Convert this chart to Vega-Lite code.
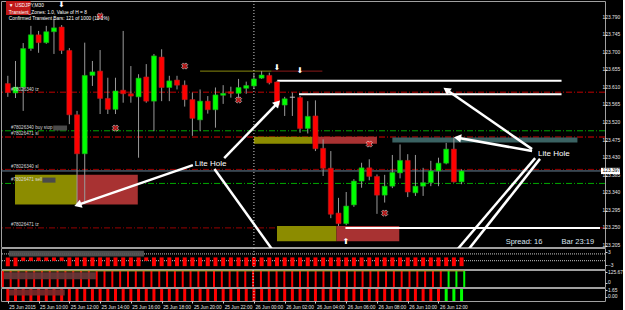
{
"$schema":"https://vega.github.io/schema/vega-lite/v6.json",
"padding":0,"background":"#000000","bounds":"flush","spacing":1,
"config":{"view":{"fill":"#000000","stroke":"#a0a0a0","strokeWidth":1},"font":"Liberation Sans",
"axis":{"labelColor":"#e6e6e6","tickColor":"#d0d0d0","domain":false,"grid":false,"labelFontSize":4.9,"tickSize":2,"labelPadding":0.5,"labelOverlap":false,"labelBound":false,"title":null}},
"datasets":{
"candles":[
{"t":"2015-06-25T08:00:00Z","o":123.621,"h":123.641,"l":123.587,"c":123.598,"v1":-3.4,"v2":140,"v3":1.95,"s":"dn"},
{"t":"2015-06-25T08:30:00Z","o":123.597,"h":123.679,"l":123.584,"c":123.612,"v1":-3.4,"v2":140,"v3":1.95,"s":"dn"},
{"t":"2015-06-25T09:00:00Z","o":123.612,"h":123.725,"l":123.551,"c":123.711,"v1":-1,"v2":140,"v3":1.95,"s":"dn"},
{"t":"2015-06-25T09:30:00Z","o":123.711,"h":123.769,"l":123.705,"c":123.746,"v1":-1,"v2":140,"v3":1.95,"s":"dn"},
{"t":"2015-06-25T10:00:00Z","o":123.746,"h":123.756,"l":123.700,"c":123.726,"v1":-1,"v2":140,"v3":1.95,"s":"dn"},
{"t":"2015-06-25T10:30:00Z","o":123.726,"h":123.769,"l":123.723,"c":123.754,"v1":-1,"v2":140,"v3":1.95,"s":"dn"},
{"t":"2015-06-25T11:00:00Z","o":123.754,"h":123.787,"l":123.697,"c":123.764,"v1":-1,"v2":140,"v3":1.95,"s":"dn"},
{"t":"2015-06-25T11:30:00Z","o":123.766,"h":123.771,"l":123.697,"c":123.706,"v1":-1,"v2":140,"v3":1.95,"s":"dn"},
{"t":"2015-06-25T12:00:00Z","o":123.706,"h":123.712,"l":123.517,"c":123.541,"v1":-3.4,"v2":140,"v3":1.95,"s":"dn"},
{"t":"2015-06-25T12:30:00Z","o":123.541,"h":123.551,"l":123.307,"c":123.441,"v1":-3.4,"v2":140,"v3":1.95,"s":"dn"},
{"t":"2015-06-25T13:00:00Z","o":123.441,"h":123.726,"l":123.312,"c":123.642,"v1":-3.4,"v2":140,"v3":1.95,"s":"dn"},
{"t":"2015-06-25T13:30:00Z","o":123.642,"h":123.679,"l":123.615,"c":123.651,"v1":-3.4,"v2":140,"v3":1.95,"s":"dn"},
{"t":"2015-06-25T14:00:00Z","o":123.653,"h":123.707,"l":123.543,"c":123.583,"v1":-3.4,"v2":140,"v3":1.95,"s":"dn"},
{"t":"2015-06-25T14:30:00Z","o":123.583,"h":123.636,"l":123.543,"c":123.555,"v1":-3.4,"v2":140,"v3":1.95,"s":"dn"},
{"t":"2015-06-25T15:00:00Z","o":123.555,"h":123.636,"l":123.543,"c":123.602,"v1":-3.4,"v2":140,"v3":1.95,"s":"dn"},
{"t":"2015-06-25T15:30:00Z","o":123.604,"h":123.756,"l":123.572,"c":123.595,"v1":-3.4,"v2":140,"v3":1.95,"s":"dn"},
{"t":"2015-06-25T16:00:00Z","o":123.595,"h":123.666,"l":123.572,"c":123.589,"v1":-3.4,"v2":140,"v3":1.95,"s":"dn"},
{"t":"2015-06-25T16:30:00Z","o":123.587,"h":123.645,"l":123.431,"c":123.635,"v1":-3.4,"v2":140,"v3":1.95,"s":"dn"},
{"t":"2015-06-25T17:00:00Z","o":123.638,"h":123.671,"l":123.572,"c":123.576,"v1":-1,"v2":140,"v3":1.95,"s":"dn"},
{"t":"2015-06-25T17:30:00Z","o":123.576,"h":123.697,"l":123.499,"c":123.692,"v1":-3.4,"v2":140,"v3":1.95,"s":"dn"},
{"t":"2015-06-25T18:00:00Z","o":123.689,"h":123.709,"l":123.576,"c":123.611,"v1":-3.4,"v2":140,"v3":1.95,"s":"dn"},
{"t":"2015-06-25T18:30:00Z","o":123.611,"h":123.641,"l":123.576,"c":123.628,"v1":-3.4,"v2":140,"v3":1.95,"s":"dn"},
{"t":"2015-06-25T19:00:00Z","o":123.630,"h":123.641,"l":123.606,"c":123.617,"v1":-3.4,"v2":140,"v3":1.95,"s":"dn"},
{"t":"2015-06-25T19:30:00Z","o":123.617,"h":123.629,"l":123.562,"c":123.580,"v1":-3.4,"v2":140,"v3":1.95,"s":"dn"},
{"t":"2015-06-25T20:00:00Z","o":123.580,"h":123.598,"l":123.487,"c":123.532,"v1":-3.4,"v2":140,"v3":1.95,"s":"dn"},
{"t":"2015-06-25T20:30:00Z","o":123.528,"h":123.606,"l":123.499,"c":123.576,"v1":-3.4,"v2":140,"v3":1.95,"s":"dn"},
{"t":"2015-06-25T21:00:00Z","o":123.576,"h":123.589,"l":123.544,"c":123.554,"v1":-3.4,"v2":140,"v3":1.95,"s":"dn"},
{"t":"2015-06-25T21:30:00Z","o":123.554,"h":123.611,"l":123.508,"c":123.592,"v1":-3.4,"v2":140,"v3":1.95,"s":"dn"},
{"t":"2015-06-25T22:00:00Z","o":123.591,"h":123.617,"l":123.569,"c":123.596,"v1":-3.4,"v2":140,"v3":1.95,"s":"dn"},
{"t":"2015-06-25T22:30:00Z","o":123.600,"h":123.613,"l":123.585,"c":123.596,"v1":-3.4,"v2":140,"v3":1.95,"s":"dn"},
{"t":"2015-06-25T23:00:00Z","o":123.596,"h":123.633,"l":123.585,"c":123.611,"v1":-3.4,"v2":140,"v3":1.95,"s":"dn"},
{"t":"2015-06-25T23:30:00Z","o":123.609,"h":123.626,"l":123.595,"c":123.616,"v1":-3.4,"v2":140,"v3":1.95,"s":"dn"},
{"t":"2015-06-26T00:00:00Z","o":123.615,"h":123.646,"l":123.607,"c":123.633,"v1":-3.4,"v2":140,"v3":1.95,"s":"dn"},
{"t":"2015-06-26T00:30:00Z","o":123.635,"h":123.653,"l":123.633,"c":123.643,"v1":-3.4,"v2":140,"v3":1.95,"s":"dn"},
{"t":"2015-06-26T01:00:00Z","o":123.642,"h":123.649,"l":123.619,"c":123.623,"v1":-3.4,"v2":140,"v3":1.95,"s":"dn"},
{"t":"2015-06-26T01:30:00Z","o":123.625,"h":123.628,"l":123.559,"c":123.566,"v1":-3.4,"v2":140,"v3":1.95,"s":"dn"},
{"t":"2015-06-26T02:00:00Z","o":123.566,"h":123.587,"l":123.538,"c":123.582,"v1":-3.4,"v2":140,"v3":1.95,"s":"dn"},
{"t":"2015-06-26T02:30:00Z","o":123.586,"h":123.598,"l":123.538,"c":123.586,"v1":-3.4,"v2":140,"v3":1.95,"s":"dn"},
{"t":"2015-06-26T03:00:00Z","o":123.585,"h":123.589,"l":123.495,"c":123.506,"v1":-3.4,"v2":140,"v3":1.95,"s":"dn"},
{"t":"2015-06-26T03:30:00Z","o":123.506,"h":123.576,"l":123.493,"c":123.537,"v1":-3.4,"v2":140,"v3":1.95,"s":"dn"},
{"t":"2015-06-26T04:00:00Z","o":123.538,"h":123.578,"l":123.448,"c":123.454,"v1":-3.4,"v2":140,"v3":1.95,"s":"dn"},
{"t":"2015-06-26T04:30:00Z","o":123.455,"h":123.478,"l":123.384,"c":123.404,"v1":-3.4,"v2":140,"v3":1.95,"s":"dn"},
{"t":"2015-06-26T05:00:00Z","o":123.404,"h":123.448,"l":123.276,"c":123.286,"v1":-3.4,"v2":140,"v3":1.95,"s":"dn"},
{"t":"2015-06-26T05:30:00Z","o":123.289,"h":123.328,"l":123.256,"c":123.262,"v1":-3.4,"v2":140,"v3":1.95,"s":"dn"},
{"t":"2015-06-26T06:00:00Z","o":123.262,"h":123.343,"l":123.258,"c":123.307,"v1":-3.4,"v2":140,"v3":1.95,"s":"dn"},
{"t":"2015-06-26T06:30:00Z","o":123.310,"h":123.376,"l":123.305,"c":123.371,"v1":-3.4,"v2":140,"v3":1.95,"s":"dn"},
{"t":"2015-06-26T07:00:00Z","o":123.371,"h":123.418,"l":123.354,"c":123.405,"v1":-3.4,"v2":140,"v3":1.95,"s":"dn"},
{"t":"2015-06-26T07:30:00Z","o":123.405,"h":123.427,"l":123.373,"c":123.383,"v1":-3.4,"v2":140,"v3":1.95,"s":"dn"},
{"t":"2015-06-26T08:00:00Z","o":123.383,"h":123.388,"l":123.287,"c":123.335,"v1":-3.4,"v2":140,"v3":1.95,"s":"dn"},
{"t":"2015-06-26T08:30:00Z","o":123.335,"h":123.387,"l":123.316,"c":123.358,"v1":-3.4,"v2":140,"v3":1.95,"s":"dn"},
{"t":"2015-06-26T09:00:00Z","o":123.358,"h":123.438,"l":123.353,"c":123.393,"v1":-3.4,"v2":140,"v3":1.95,"s":"dn"},
{"t":"2015-06-26T09:30:00Z","o":123.392,"h":123.465,"l":123.378,"c":123.424,"v1":-3.4,"v2":140,"v3":1.95,"s":"dn"},
{"t":"2015-06-26T10:00:00Z","o":123.424,"h":123.440,"l":123.330,"c":123.343,"v1":-3.4,"v2":140,"v3":1.95,"s":"dn"},
{"t":"2015-06-26T10:30:00Z","o":123.341,"h":123.438,"l":123.333,"c":123.358,"v1":-3.4,"v2":140,"v3":1.95,"s":"dn"},
{"t":"2015-06-26T11:00:00Z","o":123.358,"h":123.405,"l":123.333,"c":123.367,"v1":-3.4,"v2":140,"v3":1.95,"s":"dn"},
{"t":"2015-06-26T11:30:00Z","o":123.367,"h":123.423,"l":123.358,"c":123.397,"v1":-3.4,"v2":140,"v3":1.95,"s":"dn"},
{"t":"2015-06-26T12:00:00Z","o":123.397,"h":123.431,"l":123.358,"c":123.417,"v1":-3.4,"v2":140,"v3":1.95,"s":"dn"},
{"t":"2015-06-26T12:30:00Z","o":123.417,"h":123.469,"l":123.414,"c":123.453,"v1":-3.4,"v2":140,"v3":1.95,"s":"up"},
{"t":"2015-06-26T13:00:00Z","o":123.453,"h":123.482,"l":123.367,"c":123.369,"v1":-3.4,"v2":140,"v3":1.95,"s":"up"},
{"t":"2015-06-26T13:30:00Z","o":123.369,"h":123.401,"l":123.363,"c":123.397,"v1":-3.4,"v2":140,"v3":1.95,"s":"up"}
],
"yticks":[{"p":123.205},{"p":123.25},{"p":123.295},{"p":123.34},{"p":123.385},{"p":123.43},{"p":123.475},{"p":123.52},{"p":123.565},{"p":123.61},{"p":123.655},{"p":123.7},{"p":123.745},{"p":123.79}],
"levels":[{"p":123.599,"k":"tz"},{"p":123.500,"k":"buy"},{"p":123.484,"k":"sl"},{"p":123.401,"k":"sl2"},{"p":123.365,"k":"sell"},{"p":123.251,"k":"tz2"}],
"bid":[{"p":123.397,"t":"2015-06-26T22:30:00Z","p1":123.405,"p2":123.389}],
"sep":[{"t":"2015-06-26T00:00:00Z"}],
"segs":[
{"t1":"2015-06-26T01:31:00Z","t2":"2015-06-26T20:00:00Z","p":123.628,"k":"w"},
{"t1":"2015-06-26T02:56:00Z","t2":"2015-06-26T20:00:00Z","p":123.594,"k":"w"},
{"t1":"2015-06-26T05:57:00Z","t2":"2015-06-26T22:30:00Z","p":123.251,"k":"w"},
{"t1":"2015-06-25T20:30:00Z","t2":"2015-06-26T01:09:00Z","p":123.653,"k":"ol"},
{"t1":"2015-06-26T01:09:00Z","t2":"2015-06-26T04:27:00Z","p":123.653,"k":"rd"}],
"boxes":[
{"t1":"2015-06-25T08:28:00Z","t2":"2015-06-25T12:30:00Z","p1":123.387,"p2":123.311,"k":"ol"},
{"t1":"2015-06-25T12:30:00Z","t2":"2015-06-25T16:27:00Z","p1":123.387,"p2":123.311,"k":"rd"},
{"t1":"2015-06-26T00:00:00Z","t2":"2015-06-26T03:48:00Z","p1":123.485,"p2":123.467,"k":"ol"},
{"t1":"2015-06-26T03:48:00Z","t2":"2015-06-26T08:00:00Z","p1":123.485,"p2":123.467,"k":"rd"},
{"t1":"2015-06-26T09:00:00Z","t2":"2015-06-26T21:02:00Z","p1":123.483,"p2":123.470,"k":"tl"},
{"t1":"2015-06-26T01:30:00Z","t2":"2015-06-26T05:22:00Z","p1":123.256,"p2":123.217,"k":"ol"},
{"t1":"2015-06-26T05:22:00Z","t2":"2015-06-26T09:27:00Z","p1":123.256,"p2":123.217,"k":"rd"},
{"t1":"2015-06-25T07:53:00Z","t2":"2015-06-25T09:29:00Z","p1":123.833,"p2":123.797,"k":"hl"},
{"t1":"2015-06-25T10:57:00Z","t2":"2015-06-25T11:51:00Z","p1":123.5135,"p2":123.5007,"k":"bl"},
{"t1":"2015-06-25T10:15:00Z","t2":"2015-06-25T11:06:00Z","p1":123.380,"p2":123.367,"k":"bl"}],
"arrows":[
{"id":"a1","t1":"2015-06-25T22:04:00Z","p1":123.430,"t2":"2015-06-26T01:32:00Z","p2":123.571},
{"id":"a2","t1":"2015-06-25T20:02:00Z","p1":123.412,"t2":"2015-06-25T12:33:00Z","p2":123.310},
{"id":"a3","t1":"2015-06-25T21:26:00Z","p1":123.402,"t2":"2015-06-26T01:35:00Z","p2":123.174},
{"id":"a4","t1":"2015-06-26T18:05:00Z","p1":123.453,"t2":"2015-06-26T12:31:00Z","p2":123.605},
{"id":"a5","t1":"2015-06-26T18:05:00Z","p1":123.448,"t2":"2015-06-26T13:14:00Z","p2":123.482},
{"id":"a6","t1":"2015-06-26T18:17:00Z","p1":123.430,"t2":"2015-06-26T12:39:00Z","p2":123.169},
{"id":"a7","t1":"2015-06-26T18:36:00Z","p1":123.428,"t2":"2015-06-26T13:25:00Z","p2":123.169}],
"icons":[{"t":"2015-06-25T14:00:00Z","p":123.794},{"t":"2015-06-25T15:00:00Z","p":123.507},{"t":"2015-06-25T19:30:00Z","p":123.666},{"t":"2015-06-25T23:00:00Z","p":123.579},{"t":"2015-06-26T07:30:00Z","p":123.466},{"t":"2015-06-26T08:30:00Z","p":123.289}],
"glyphs":[{"t":"2015-06-26T01:30:00Z","p":123.661,"g":"⬇"},{"t":"2015-06-26T03:00:00Z","p":123.653,"g":"⬇"},{"t":"2015-06-26T06:00:00Z","p":123.215,"g":"⬆"},{"t":"2015-06-25T11:30:00Z","p":123.823,"g":"⬇"}],
"texts":[
{"k":"info","t":"2015-06-25T08:04:00Z","p":123.821,"txt":"▼ USDJPY,M30"},
{"k":"info","t":"2015-06-25T08:04:00Z","p":123.803,"txt":"Transient_Zones: 1.0, Value of H = 8"},
{"k":"info","t":"2015-06-25T08:04:00Z","p":123.787,"txt":"Confirmed Transient Bars: 121 of 1000 (12.1%)"},
{"k":"ord","t":"2015-06-25T08:12:00Z","p":123.605,"txt":"#78026340 tz"},
{"k":"ord","t":"2015-06-25T08:12:00Z","p":123.506,"txt":"#78026340 buy stop"},
{"k":"ord","t":"2015-06-25T08:12:00Z","p":123.493,"txt":"#78026471 sl"},
{"k":"ord","t":"2015-06-25T08:12:00Z","p":123.407,"txt":"#78026340 sl"},
{"k":"ord","t":"2015-06-25T08:12:00Z","p":123.373,"txt":"#78026471 sell"},
{"k":"ord","t":"2015-06-25T08:12:00Z","p":123.258,"txt":"#78026471 tz"},
{"k":"lite","t":"2015-06-25T21:11:00Z","p":123.415,"txt":"Lite Hole"},
{"k":"lite","t":"2015-06-26T19:30:00Z","p":123.441,"txt":"Lite Hole"},
{"k":"spr","t":"2015-06-26T16:22:00Z","p":123.215,"txt":"Spread: 16"},
{"k":"spr","t":"2015-06-26T20:00:00Z","p":123.215,"txt":"Bar 23:19"}],
"blur":[
{"k":"s1","t1":"2015-06-25T08:04:00Z","t2":"2015-06-25T16:51:00Z","p1":3.7,"p2":1.0},
{"k":"s2","t1":"2015-06-25T08:04:00Z","t2":"2015-06-25T13:57:00Z","p1":125,"p2":40},
{"k":"s3","t1":"2015-06-25T08:04:00Z","t2":"2015-06-25T11:42:00Z","p1":1.8,"p2":0.3}],
"lv1":[{"v":2.2},{"v":-0.9}]
},
"vconcat":[
{"width":604,"height":246,
"layer":[
{"data":{"name":"levels"},"mark":{"type":"rule","strokeWidth":1,"strokeDash":[6,2,1,2]},
"encoding":{"y":{"field":"p","type":"quantitative","scale":{"domain":[123.202,123.8328],"nice":false,"zero":false},"axis":{"orient":"right","values":[123.205,123.25,123.295,123.34,123.385,123.43,123.475,123.52,123.565,123.61,123.655,123.7,123.745,123.79],"labels":false,"title":null}},
"color":{"condition":[{"test":"datum.k=='buy'||datum.k=='sell'","value":"#00a800"},{"test":"datum.k=='sl'","value":"#e00000"},{"test":"datum.k=='tz'","value":"#c00000"}],"value":"#960000"}}},
{"data":{"name":"yticks"},"mark":{"type":"text","fontSize":4.9,"color":"#e6e6e6","align":"left","baseline":"middle","dx":2.5},
"encoding":{"x":{"datum":{"year":2015,"month":6,"date":26,"hours":22,"minutes":30,"utc":true},"type":"temporal","scale":{"type":"utc","nice":false,"domain":[{"year":2015,"month":6,"date":25,"hours":7,"minutes":52,"seconds":54,"utc":true},{"year":2015,"month":6,"date":26,"hours":22,"minutes":30,"utc":true}]},"axis":null},
"y":{"field":"p","type":"quantitative","scale":{"domain":[123.202,123.8328],"nice":false,"zero":false}},"text":{"field":"p","format":".3f"}}},
{"data":{"name":"bid"},"mark":{"type":"rule","color":"#6b8296","strokeWidth":1},
"encoding":{"y":{"field":"p","type":"quantitative","scale":{"domain":[123.202,123.8328],"nice":false,"zero":false}}}},
{"data":{"name":"boxes"},"mark":{"type":"rect"},
"encoding":{"x":{"field":"t1","type":"temporal","scale":{"type":"utc","nice":false,"domain":[{"year":2015,"month":6,"date":25,"hours":7,"minutes":52,"seconds":54,"utc":true},{"year":2015,"month":6,"date":26,"hours":22,"minutes":30,"utc":true}]},"axis":null},"x2":{"field":"t2"},
"y":{"field":"p1","type":"quantitative","scale":{"domain":[123.202,123.8328],"nice":false,"zero":false}},"y2":{"field":"p2"},
"color":{"condition":[{"test":"datum.k=='ol'","value":"#8c8c00"},{"test":"datum.k=='rd'","value":"#a83232"},{"test":"datum.k=='tl'","value":"#3a6262"},{"test":"datum.k=='hl'","value":"#c01818"}],"value":"#4a4a4a"}}},
{"data":{"name":"segs"},"transform":[{"filter":"datum.k=='w'"}],"mark":{"type":"rule","color":"#ffffff","strokeWidth":2},
"encoding":{"x":{"field":"t1","type":"temporal","scale":{"type":"utc","nice":false,"domain":[{"year":2015,"month":6,"date":25,"hours":7,"minutes":52,"seconds":54,"utc":true},{"year":2015,"month":6,"date":26,"hours":22,"minutes":30,"utc":true}]},"axis":null},"x2":{"field":"t2"},
"y":{"field":"p","type":"quantitative","scale":{"domain":[123.202,123.8328],"nice":false,"zero":false}}}},
{"data":{"name":"segs"},"transform":[{"filter":"datum.k!='w'"}],"mark":{"type":"rule","strokeWidth":1},
"encoding":{"x":{"field":"t1","type":"temporal","scale":{"type":"utc","nice":false,"domain":[{"year":2015,"month":6,"date":25,"hours":7,"minutes":52,"seconds":54,"utc":true},{"year":2015,"month":6,"date":26,"hours":22,"minutes":30,"utc":true}]},"axis":null},"x2":{"field":"t2"},
"y":{"field":"p","type":"quantitative","scale":{"domain":[123.202,123.8328],"nice":false,"zero":false}},
"color":{"condition":{"test":"datum.k=='ol'","value":"#8a8a10"},"value":"#8b1a1a"}}},
{"data":{"name":"sep"},"mark":{"type":"rule","color":"#d0d0d0","strokeDash":[1,2],"strokeWidth":1},
"encoding":{"x":{"field":"t","type":"temporal","scale":{"type":"utc","nice":false,"domain":[{"year":2015,"month":6,"date":25,"hours":7,"minutes":52,"seconds":54,"utc":true},{"year":2015,"month":6,"date":26,"hours":22,"minutes":30,"utc":true}]},"axis":null}}},
{"data":{"name":"candles"},"mark":{"type":"rule","color":"#9a9a9a","strokeWidth":1},
"encoding":{"x":{"field":"t","type":"temporal","scale":{"type":"utc","nice":false,"domain":[{"year":2015,"month":6,"date":25,"hours":7,"minutes":52,"seconds":54,"utc":true},{"year":2015,"month":6,"date":26,"hours":22,"minutes":30,"utc":true}]},"axis":null},
"y":{"field":"l","type":"quantitative","scale":{"domain":[123.202,123.8328],"nice":false,"zero":false}},"y2":{"field":"h"}}},
{"data":{"name":"candles"},"mark":{"type":"bar","size":5,"strokeWidth":0.6},
"encoding":{"x":{"field":"t","type":"temporal","scale":{"type":"utc","nice":false,"domain":[{"year":2015,"month":6,"date":25,"hours":7,"minutes":52,"seconds":54,"utc":true},{"year":2015,"month":6,"date":26,"hours":22,"minutes":30,"utc":true}]},"axis":null},
"y":{"field":"o","type":"quantitative","scale":{"domain":[123.202,123.8328],"nice":false,"zero":false}},"y2":{"field":"c"},
"fill":{"condition":[{"test":"datum.c>datum.o","value":"#00ff00"},{"test":"datum.c==datum.o","value":"#c8c8c8"}],"value":"#ff0000"},
"stroke":{"condition":[{"test":"datum.c>datum.o","value":"#20a020"},{"test":"datum.c==datum.o","value":"#c8c8c8"}],"value":"#b02020"}}},
{"data":{"name":"icons"},"mark":{"type":"point","shape":"cross","angle":45,"filled":true,"size":40,"color":"#ff2020","stroke":"#ffffff","strokeWidth":0.7},
"encoding":{"x":{"field":"t","type":"temporal","scale":{"type":"utc","nice":false,"domain":[{"year":2015,"month":6,"date":25,"hours":7,"minutes":52,"seconds":54,"utc":true},{"year":2015,"month":6,"date":26,"hours":22,"minutes":30,"utc":true}]},"axis":null},
"y":{"field":"p","type":"quantitative","scale":{"domain":[123.202,123.8328],"nice":false,"zero":false}}}},
{"data":{"name":"glyphs"},"mark":{"type":"text","font":"DejaVu Sans","fontSize":8,"color":"#ffffff","baseline":"middle"},
"encoding":{"x":{"field":"t","type":"temporal","scale":{"type":"utc","nice":false,"domain":[{"year":2015,"month":6,"date":25,"hours":7,"minutes":52,"seconds":54,"utc":true},{"year":2015,"month":6,"date":26,"hours":22,"minutes":30,"utc":true}]},"axis":null},
"y":{"field":"p","type":"quantitative","scale":{"domain":[123.202,123.8328],"nice":false,"zero":false}},"text":{"field":"g"}}},
{"data":{"name":"arrows"},"mark":{"type":"rule","color":"#ffffff","strokeWidth":2.5},
"encoding":{"x":{"field":"t1","type":"temporal","scale":{"type":"utc","nice":false,"domain":[{"year":2015,"month":6,"date":25,"hours":7,"minutes":52,"seconds":54,"utc":true},{"year":2015,"month":6,"date":26,"hours":22,"minutes":30,"utc":true}]},"axis":null},"x2":{"field":"t2"},
"y":{"field":"p1","type":"quantitative","scale":{"domain":[123.202,123.8328],"nice":false,"zero":false}},"y2":{"field":"p2"}}},
{"data":{"name":"arrows"},"transform":[{"filter":"datum.id=='a1'"}],"mark":{"type":"point","shape":"triangle-up","filled":true,"color":"#ffffff","size":70,"opacity":1,"angle":44},
"encoding":{"x":{"field":"t2","type":"temporal","scale":{"type":"utc","nice":false,"domain":[{"year":2015,"month":6,"date":25,"hours":7,"minutes":52,"seconds":54,"utc":true},{"year":2015,"month":6,"date":26,"hours":22,"minutes":30,"utc":true}]},"axis":null},"y":{"field":"p2","type":"quantitative","scale":{"domain":[123.202,123.8328],"nice":false,"zero":false}}}},
{"data":{"name":"arrows"},"transform":[{"filter":"datum.id=='a2'"}],"mark":{"type":"point","shape":"triangle-up","filled":true,"color":"#ffffff","size":70,"opacity":1,"angle":251},
"encoding":{"x":{"field":"t2","type":"temporal","scale":{"type":"utc","nice":false,"domain":[{"year":2015,"month":6,"date":25,"hours":7,"minutes":52,"seconds":54,"utc":true},{"year":2015,"month":6,"date":26,"hours":22,"minutes":30,"utc":true}]},"axis":null},"y":{"field":"p2","type":"quantitative","scale":{"domain":[123.202,123.8328],"nice":false,"zero":false}}}},
{"data":{"name":"arrows"},"transform":[{"filter":"datum.id=='a3'"}],"mark":{"type":"point","shape":"triangle-up","filled":true,"color":"#ffffff","size":70,"opacity":1,"angle":144},
"encoding":{"x":{"field":"t2","type":"temporal","scale":{"type":"utc","nice":false,"domain":[{"year":2015,"month":6,"date":25,"hours":7,"minutes":52,"seconds":54,"utc":true},{"year":2015,"month":6,"date":26,"hours":22,"minutes":30,"utc":true}]},"axis":null},"y":{"field":"p2","type":"quantitative","scale":{"domain":[123.202,123.8328],"nice":false,"zero":false}}}},
{"data":{"name":"arrows"},"transform":[{"filter":"datum.id=='a4'"}],"mark":{"type":"point","shape":"triangle-up","filled":true,"color":"#ffffff","size":70,"opacity":1,"angle":304},
"encoding":{"x":{"field":"t2","type":"temporal","scale":{"type":"utc","nice":false,"domain":[{"year":2015,"month":6,"date":25,"hours":7,"minutes":52,"seconds":54,"utc":true},{"year":2015,"month":6,"date":26,"hours":22,"minutes":30,"utc":true}]},"axis":null},"y":{"field":"p2","type":"quantitative","scale":{"domain":[123.202,123.8328],"nice":false,"zero":false}}}},
{"data":{"name":"arrows"},"transform":[{"filter":"datum.id=='a5'"}],"mark":{"type":"point","shape":"triangle-up","filled":true,"color":"#ffffff","size":70,"opacity":1,"angle":280},
"encoding":{"x":{"field":"t2","type":"temporal","scale":{"type":"utc","nice":false,"domain":[{"year":2015,"month":6,"date":25,"hours":7,"minutes":52,"seconds":54,"utc":true},{"year":2015,"month":6,"date":26,"hours":22,"minutes":30,"utc":true}]},"axis":null},"y":{"field":"p2","type":"quantitative","scale":{"domain":[123.202,123.8328],"nice":false,"zero":false}}}},
{"data":{"name":"arrows"},"transform":[{"filter":"datum.id=='a6' || datum.id=='a7'"}],"mark":{"type":"point","shape":"triangle-up","filled":true,"color":"#ffffff","size":70,"opacity":1,"angle":220},
"encoding":{"x":{"field":"t2","type":"temporal","scale":{"type":"utc","nice":false,"domain":[{"year":2015,"month":6,"date":25,"hours":7,"minutes":52,"seconds":54,"utc":true},{"year":2015,"month":6,"date":26,"hours":22,"minutes":30,"utc":true}]},"axis":null},"y":{"field":"p2","type":"quantitative","scale":{"domain":[123.202,123.8328],"nice":false,"zero":false}}}},
{"data":{"name":"texts"},"transform":[{"filter":"datum.k=='info'"}],"mark":{"type":"text","fontSize":4.8,"color":"#ffffff","align":"left","baseline":"middle"},
"encoding":{"x":{"field":"t","type":"temporal","scale":{"type":"utc","nice":false,"domain":[{"year":2015,"month":6,"date":25,"hours":7,"minutes":52,"seconds":54,"utc":true},{"year":2015,"month":6,"date":26,"hours":22,"minutes":30,"utc":true}]},"axis":null},"y":{"field":"p","type":"quantitative","scale":{"domain":[123.202,123.8328],"nice":false,"zero":false}},"text":{"field":"txt"}}},
{"data":{"name":"texts"},"transform":[{"filter":"datum.k=='ord'"}],"mark":{"type":"text","fontSize":4.6,"color":"#d8d8d8","align":"left","baseline":"middle"},
"encoding":{"x":{"field":"t","type":"temporal","scale":{"type":"utc","nice":false,"domain":[{"year":2015,"month":6,"date":25,"hours":7,"minutes":52,"seconds":54,"utc":true},{"year":2015,"month":6,"date":26,"hours":22,"minutes":30,"utc":true}]},"axis":null},"y":{"field":"p","type":"quantitative","scale":{"domain":[123.202,123.8328],"nice":false,"zero":false}},"text":{"field":"txt"}}},
{"data":{"name":"texts"},"transform":[{"filter":"datum.k=='lite'"}],"mark":{"type":"text","fontSize":8,"color":"#ffffff","align":"center","baseline":"middle"},
"encoding":{"x":{"field":"t","type":"temporal","scale":{"type":"utc","nice":false,"domain":[{"year":2015,"month":6,"date":25,"hours":7,"minutes":52,"seconds":54,"utc":true},{"year":2015,"month":6,"date":26,"hours":22,"minutes":30,"utc":true}]},"axis":null},"y":{"field":"p","type":"quantitative","scale":{"domain":[123.202,123.8328],"nice":false,"zero":false}},"text":{"field":"txt"}}},
{"data":{"name":"texts"},"transform":[{"filter":"datum.k=='spr'"}],"mark":{"type":"text","fontSize":7.5,"color":"#dde6f0","align":"left","baseline":"middle"},
"encoding":{"x":{"field":"t","type":"temporal","scale":{"type":"utc","nice":false,"domain":[{"year":2015,"month":6,"date":25,"hours":7,"minutes":52,"seconds":54,"utc":true},{"year":2015,"month":6,"date":26,"hours":22,"minutes":30,"utc":true}]},"axis":null},"y":{"field":"p","type":"quantitative","scale":{"domain":[123.202,123.8328],"nice":false,"zero":false}},"text":{"field":"txt"}}},
{"data":{"name":"bid"},"mark":{"type":"rect","color":"#ffffff","xOffset":1,"x2Offset":20},
"encoding":{"x":{"field":"t","type":"temporal","scale":{"type":"utc","nice":false,"domain":[{"year":2015,"month":6,"date":25,"hours":7,"minutes":52,"seconds":54,"utc":true},{"year":2015,"month":6,"date":26,"hours":22,"minutes":30,"utc":true}]},"axis":null},"x2":{"field":"t"},
"y":{"field":"p1","type":"quantitative","scale":{"domain":[123.202,123.8328],"nice":false,"zero":false}},"y2":{"field":"p2"}}},
{"data":{"name":"bid"},"mark":{"type":"text","color":"#000000","fontSize":4.9,"align":"left","baseline":"middle","dx":2.5},
"encoding":{"x":{"field":"t","type":"temporal","scale":{"type":"utc","nice":false,"domain":[{"year":2015,"month":6,"date":25,"hours":7,"minutes":52,"seconds":54,"utc":true},{"year":2015,"month":6,"date":26,"hours":22,"minutes":30,"utc":true}]},"axis":null},
"y":{"field":"p","type":"quantitative","scale":{"domain":[123.202,123.8328],"nice":false,"zero":false}},"text":{"field":"p","format":".3f"}}}
]},
{"width":604,"height":21,
"layer":[
{"data":{"name":"lv1"},"mark":{"type":"rule","color":"#c8c8c8","strokeDash":[1,1],"strokeWidth":1},
"encoding":{"y":{"field":"v","type":"quantitative","scale":{"domain":[-4.7,4.9],"nice":false,"zero":false},"axis":{"orient":"right","values":[3,0,-3],"labelExpr":"datum.value==0?'0.00':datum.label","title":null,"labelOverlap":false,"labelBound":false,"labelFlush":false}}}},
{"data":{"name":"candles"},"mark":{"type":"bar","size":4,"color":"#ff0000"},
"encoding":{"x":{"field":"t","type":"temporal","scale":{"type":"utc","nice":false,"domain":[{"year":2015,"month":6,"date":25,"hours":7,"minutes":52,"seconds":54,"utc":true},{"year":2015,"month":6,"date":26,"hours":22,"minutes":30,"utc":true}]},"axis":null},
"y":{"field":"v1","type":"quantitative","scale":{"domain":[-4.7,4.9],"nice":false,"zero":false}},"y2":{"datum":0.6}}},
{"data":{"name":"blur"},"transform":[{"filter":"datum.k=='s1'"}],"mark":{"type":"rect","color":"#555555","opacity":0.9},
"encoding":{"x":{"field":"t1","type":"temporal","scale":{"type":"utc","nice":false,"domain":[{"year":2015,"month":6,"date":25,"hours":7,"minutes":52,"seconds":54,"utc":true},{"year":2015,"month":6,"date":26,"hours":22,"minutes":30,"utc":true}]},"axis":null},"x2":{"field":"t2"},
"y":{"field":"p1","type":"quantitative","scale":{"domain":[-4.7,4.9],"nice":false,"zero":false}},"y2":{"field":"p2"}}},
{"data":{"name":"sep"},"mark":{"type":"rule","color":"#d0d0d0","strokeDash":[1,2],"strokeWidth":1},
"encoding":{"x":{"field":"t","type":"temporal","scale":{"type":"utc","nice":false,"domain":[{"year":2015,"month":6,"date":25,"hours":7,"minutes":52,"seconds":54,"utc":true},{"year":2015,"month":6,"date":26,"hours":22,"minutes":30,"utc":true}]},"axis":null}}}
]},
{"width":604,"height":17,
"layer":[
{"data":{"name":"candles"},"mark":{"type":"rule","strokeWidth":2},
"encoding":{"x":{"field":"t","type":"temporal","scale":{"type":"utc","nice":false,"domain":[{"year":2015,"month":6,"date":25,"hours":7,"minutes":52,"seconds":54,"utc":true},{"year":2015,"month":6,"date":26,"hours":22,"minutes":30,"utc":true}]},"axis":null},
"y":{"field":"v2","type":"quantitative","scale":{"domain":[-50.3,150.8],"nice":false,"zero":false},"axis":{"orient":"right","values":[125.67,0],"labelExpr":"datum.value==0?'0':'125.67'","title":null,"labelOverlap":false,"labelBound":false,"labelFlush":false}},"y2":{"datum":-50.3},
"color":{"condition":{"test":"datum.s=='up'","value":"#00ff00"},"value":"#ff0000"}}},
{"data":{"name":"candles"},"mark":{"type":"line","color":"#a0a020","strokeWidth":1},
"encoding":{"x":{"field":"t","type":"temporal","scale":{"type":"utc","nice":false,"domain":[{"year":2015,"month":6,"date":25,"hours":7,"minutes":52,"seconds":54,"utc":true},{"year":2015,"month":6,"date":26,"hours":22,"minutes":30,"utc":true}]},"axis":null},
"y":{"field":"v2","type":"quantitative","scale":{"domain":[-50.3,150.8],"nice":false,"zero":false}}}},
{"data":{"name":"blur"},"transform":[{"filter":"datum.k=='s2'"}],"mark":{"type":"rect","color":"#6a3a3a","opacity":0.9},
"encoding":{"x":{"field":"t1","type":"temporal","scale":{"type":"utc","nice":false,"domain":[{"year":2015,"month":6,"date":25,"hours":7,"minutes":52,"seconds":54,"utc":true},{"year":2015,"month":6,"date":26,"hours":22,"minutes":30,"utc":true}]},"axis":null},"x2":{"field":"t2"},
"y":{"field":"p1","type":"quantitative","scale":{"domain":[-50.3,150.8],"nice":false,"zero":false}},"y2":{"field":"p2"}}},
{"data":{"name":"sep"},"mark":{"type":"rule","color":"#d0d0d0","strokeDash":[1,2],"strokeWidth":1},
"encoding":{"x":{"field":"t","type":"temporal","scale":{"type":"utc","nice":false,"domain":[{"year":2015,"month":6,"date":25,"hours":7,"minutes":52,"seconds":54,"utc":true},{"year":2015,"month":6,"date":26,"hours":22,"minutes":30,"utc":true}]},"axis":null}}}
]},
{"width":604,"height":13,
"layer":[
{"data":{"name":"candles"},"mark":{"type":"bar","size":3},
"encoding":{"x":{"field":"t","type":"temporal","scale":{"type":"utc","nice":false,"domain":[{"year":2015,"month":6,"date":25,"hours":7,"minutes":52,"seconds":54,"utc":true},{"year":2015,"month":6,"date":26,"hours":22,"minutes":30,"utc":true}]},
"axis":{"values":[{"year":2015,"month":6,"date":25,"hours":8,"utc":true},{"year":2015,"month":6,"date":25,"hours":10,"utc":true},{"year":2015,"month":6,"date":25,"hours":12,"utc":true},{"year":2015,"month":6,"date":25,"hours":14,"utc":true},{"year":2015,"month":6,"date":25,"hours":16,"utc":true},{"year":2015,"month":6,"date":25,"hours":18,"utc":true},{"year":2015,"month":6,"date":25,"hours":20,"utc":true},{"year":2015,"month":6,"date":25,"hours":22,"utc":true},{"year":2015,"month":6,"date":26,"hours":0,"utc":true},{"year":2015,"month":6,"date":26,"hours":2,"utc":true},{"year":2015,"month":6,"date":26,"hours":4,"utc":true},{"year":2015,"month":6,"date":26,"hours":6,"utc":true},{"year":2015,"month":6,"date":26,"hours":8,"utc":true},{"year":2015,"month":6,"date":26,"hours":10,"utc":true},{"year":2015,"month":6,"date":26,"hours":12,"utc":true}],
"labelExpr":"(utcdate(datum.value)==25 && utchours(datum.value)==8) ? '25 Jun 2015' : utcFormat(datum.value, '%d %b %H:%M')","labelAlign":"left","labelOffset":1,"labelFontSize":4.8,"labelOverlap":false,"labelFlush":false,"labelBound":false,"tickSize":2,"labelPadding":1,"title":null,"orient":"bottom"}},
"y":{"field":"v3","type":"quantitative","scale":{"domain":[-1.1,2.2],"nice":false,"zero":false},"axis":{"orient":"right","values":[1.65,0],"labelExpr":"datum.value==0?'0.00':'1.65'","title":null,"labelOverlap":false,"labelBound":false,"labelFlush":false}},"y2":{"datum":-1.1},
"color":{"condition":{"test":"datum.s=='up'","value":"#00ff00"},"value":"#ff0000"}}},
{"data":{"name":"blur"},"transform":[{"filter":"datum.k=='s3'"}],"mark":{"type":"rect","color":"#7a2a2a","opacity":0.9},
"encoding":{"x":{"field":"t1","type":"temporal"},"x2":{"field":"t2"},
"y":{"field":"p1","type":"quantitative"},"y2":{"field":"p2"}}},
{"data":{"name":"sep"},"mark":{"type":"rule","color":"#d0d0d0","strokeDash":[1,2],"strokeWidth":1},
"encoding":{"x":{"field":"t","type":"temporal"}}}
]}
]
}
